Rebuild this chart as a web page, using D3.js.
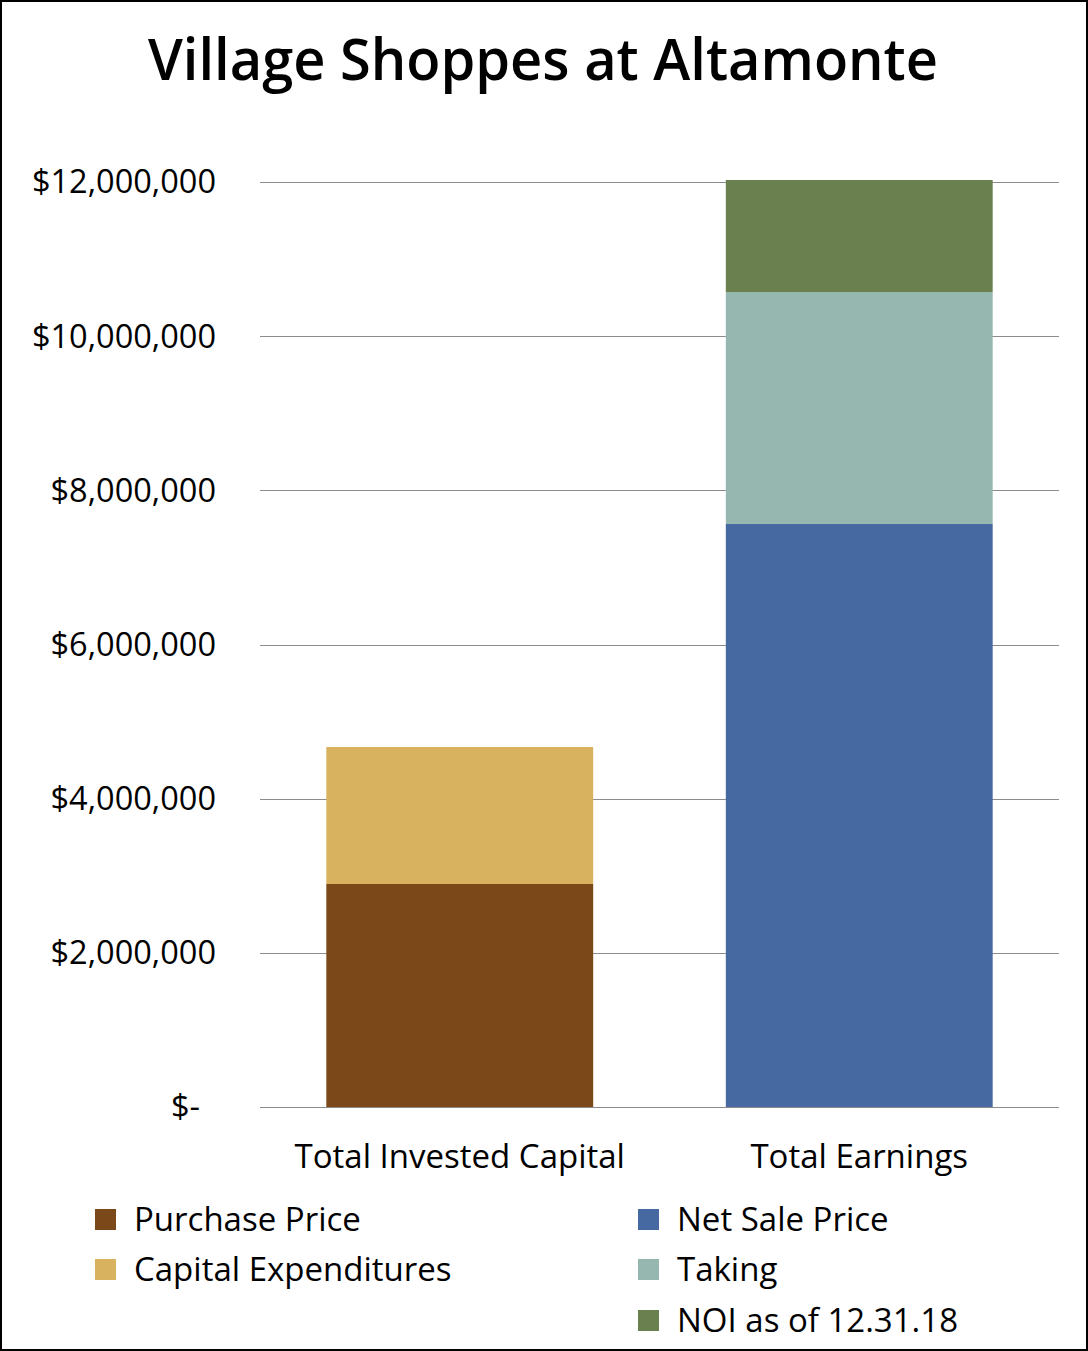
<!DOCTYPE html>
<html><head><meta charset="utf-8">
<script src="https://cdn.jsdelivr.net/npm/d3@7"></script>
<style>html,body{margin:0;padding:0;background:#fff;}svg{display:block;font-family:"Open Sans",sans-serif;}</style>
</head><body>
<script>
const categories = ["Total Invested Capital", "Total Earnings"];
const seriesNames = ["Purchase Price", "Capital Expenditures", "Net Sale Price", "Taking", "NOI as of 12.31.18"];
const purchasePrice = [2893000, 0];
const capitalExpenditures = [1777000, 0];
const netSalePrice = [0, 7563000];
const taking = [0, 3010000];
const noi = [0, 1453000];
const yTicks = [0, 2000000, 4000000, 6000000, 8000000, 10000000, 12000000];
const colors = ["#7A4819", "#D8B25E", "#4769A2", "#95B7AF", "#6A804F"];
const title = "Village Shoppes at Altamonte";

(function () {
const W = 1088, H = 1351;
const svg = d3.select("body").append("svg").attr("width", W).attr("height", H);
svg.append("rect").attr("x", 1).attr("y", 1).attr("width", W - 2).attr("height", H - 2)
  .attr("fill", "#fff").attr("stroke", "#000").attr("stroke-width", 2);

svg.append("text").attr("x", 543).attr("y", 80).attr("text-anchor", "middle")
  .attr("font-size", 58).attr("font-weight", 600).attr("fill", "#000")
  .attr("textLength", 790).attr("lengthAdjust", "spacingAndGlyphs").text(title);

const pL = 260, pR = 1059, pT = 182, pB = 1107;
const x = d3.scaleBand().domain(categories).range([pL, pR]).paddingInner(0.332).paddingOuter(0.166);
const y = d3.scaleLinear().domain([0, 12000000]).range([pB, pT]);

svg.append("g").selectAll("line").data(yTicks).join("line")
  .attr("x1", pL).attr("x2", pR)
  .attr("y1", d => Math.round(y(d)) + 0.5).attr("y2", d => Math.round(y(d)) + 0.5)
  .attr("stroke", "#8c8c8c").attr("stroke-width", 1);

const fmt = d => d === 0 ? "$-" : "$" + d3.format(",")(d);
svg.append("g").selectAll("text").data(yTicks).join("text")
  .attr("x", d => d === 0 ? 200 : 216).attr("y", d => y(d)).attr("dy", "0.35em")
  .attr("text-anchor", "end").attr("font-size", 32.5).attr("fill", "#000").text(fmt);

const seriesArrays = [purchasePrice, capitalExpenditures, netSalePrice, taking, noi];
const table = categories.map((c, i) => {
  const o = {cat: c};
  seriesNames.forEach((s, j) => o[s] = seriesArrays[j][i]);
  return o;
});
const stacked = d3.stack().keys(seriesNames)(table);
svg.append("g").selectAll("g").data(stacked).join("g")
  .attr("fill", (d, i) => colors[i])
  .selectAll("rect").data(d => d.filter(p => p[1] - p[0] > 0)).join("rect")
  .attr("x", d => x(d.data.cat)).attr("width", x.bandwidth())
  .attr("y", d => y(d[1])).attr("height", d => y(d[0]) - y(d[1]));

svg.append("g").selectAll("text").data(categories).join("text")
  .attr("x", d => x(d) + x.bandwidth() / 2).attr("y", 1168)
  .attr("text-anchor", "middle").attr("font-size", 33).attr("fill", "#000").text(d => d);

const legendPos = [
  {mx: 95, ty: 1219}, {mx: 95, ty: 1269},
  {mx: 638, ty: 1219}, {mx: 638, ty: 1269}, {mx: 638, ty: 1320}
];
const lg = svg.append("g").selectAll("g").data(seriesNames).join("g");
lg.append("rect").attr("x", (d, i) => legendPos[i].mx).attr("y", (d, i) => legendPos[i].ty - 10)
  .attr("width", 21).attr("height", 21).attr("fill", (d, i) => colors[i]);
lg.append("text").attr("x", (d, i) => legendPos[i].mx + 39).attr("y", (d, i) => legendPos[i].ty)
  .attr("dy", "0.35em").attr("font-size", 33).attr("fill", "#000").text(d => d);
})();
</script>
</body></html>
